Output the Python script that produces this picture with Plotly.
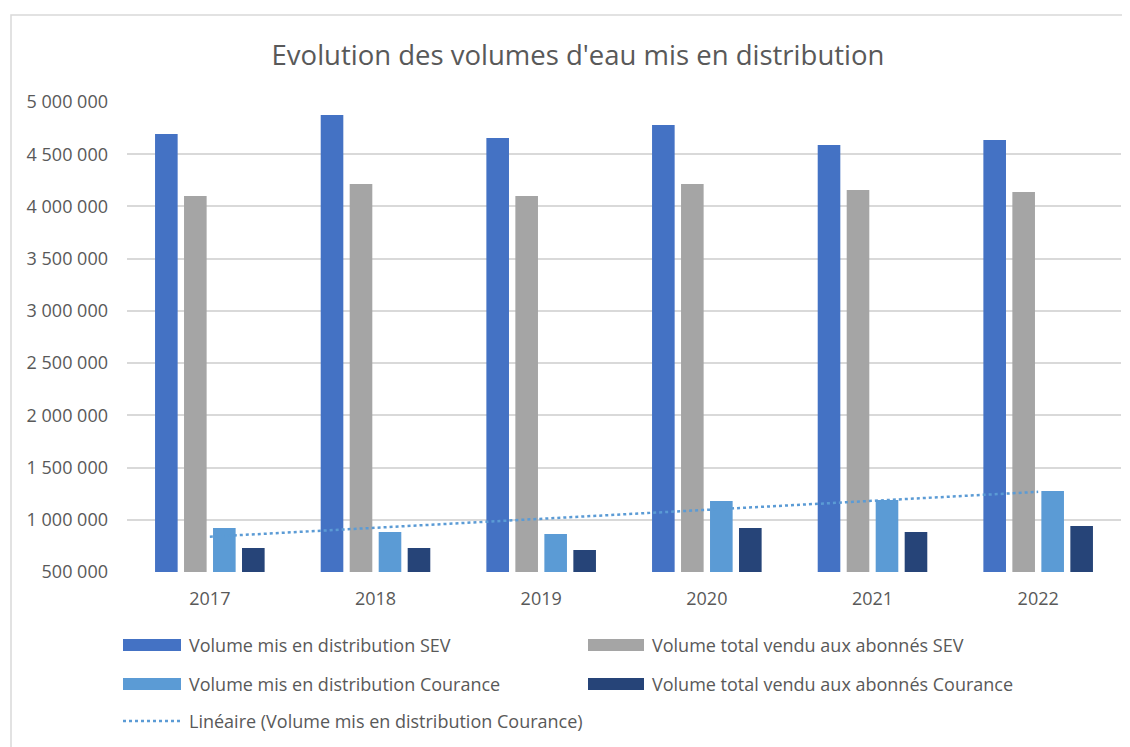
import numpy as np
import plotly.graph_objects as go

years = ["2017", "2018", "2019", "2020", "2021", "2022"]
sev_dist = [4694000, 4876000, 4655000, 4780000, 4588000, 4636000]
sev_sold = [4100000, 4215000, 4100000, 4215000, 4157000, 4138000]
cour_dist = [922000, 883000, 864000, 1180000, 1190000, 1276000]
cour_sold = [730000, 730000, 711000, 922000, 883000, 941000]

names = [
    "Volume mis en distribution SEV",
    "Volume total vendu aux abonnés SEV",
    "Volume mis en distribution Courance",
    "Volume total vendu aux abonnés Courance",
]
trend_name = "Linéaire (Volume mis en distribution Courance)"
colors = ["#4472C4", "#A5A5A5", "#5B9BD5", "#264478"]
series = [sev_dist, sev_sold, cour_dist, cour_sold]

TEXT = "#595959"
FONT = "Open Sans, sans-serif"

fig = go.Figure()
for nm, col, vals in zip(names, colors, series):
    fig.add_trace(go.Bar(x=years, y=vals, name=nm, marker_color=col,
                         marker_line_width=0, showlegend=False))

# linear trendline of Courance distribution (least squares over category index)
idx = np.arange(1, len(years) + 1)
slope, intercept = np.polyfit(idx, np.array(cour_dist, dtype=float), 1)
trend = (slope * idx + intercept).tolist()
fig.add_trace(go.Scatter(x=years, y=trend, mode="lines", name=trend_name,
                         line=dict(color="#5B9BD5", width=2.5, dash="dot"),
                         showlegend=False))

OFF = 8  # default page body margin
W, H = 1130 - OFF, 747 - OFF
L, R, T, B = 127 - OFF, 9, 102 - OFF, 175
pw, ph = W - L - R, H - T - B

def px(x):
    return (x - OFF - L) / pw

def py(y):
    return (H - B - (y - OFF)) / ph

shapes = []
annotations = []
# chart border
shapes.append(dict(type="rect", xref="paper", yref="paper",
                   x0=px(11), x1=px(1150), y0=py(15), y1=py(780),
                   line=dict(color="#D9D9D9", width=1.5), fillcolor="rgba(0,0,0,0)",
                   layer="below"))

# manual legend (Excel style)
leg_items = [
    (names[0], colors[0], 123, 181, 187, 645, "bar"),
    (names[1], colors[1], 588, 644, 650, 645, "bar"),
    (names[2], colors[2], 123, 181, 187, 684, "bar"),
    (names[3], colors[3], 588, 644, 650, 684, "bar"),
    (trend_name, "#5B9BD5", 123, 180, 187, 721, "line"),
]
for nm, col, sx0, sx1, tx, yy, kind in leg_items:
    if kind == "bar":
        shapes.append(dict(type="rect", xref="paper", yref="paper",
                           x0=px(sx0), x1=px(sx1), y0=py(yy + 6), y1=py(yy - 6),
                           fillcolor=col, line=dict(width=0)))
    else:
        shapes.append(dict(type="line", xref="paper", yref="paper",
                           x0=px(sx0), x1=px(sx1), y0=py(yy), y1=py(yy),
                           line=dict(color=col, width=2.5, dash="dot")))
    annotations.append(dict(text=nm, xref="paper", yref="paper",
                            x=px(tx), y=py(yy), xanchor="left", yanchor="middle",
                            showarrow=False, font=dict(family=FONT, size=18, color=TEXT)))

fig.update_layout(
    width=W, height=H,
    margin=dict(l=L, r=R, t=T, b=B),
    paper_bgcolor="white", plot_bgcolor="white",
    separators=". ",
    title=dict(text="Evolution des volumes d'eau mis en distribution",
               x=(578 - OFF) / W, xanchor="center", y=1 - (55 - OFF) / H, yanchor="middle",
               xref="container", yref="container",
               font=dict(family=FONT, size=27.5, color=TEXT)),
    barmode="group", bargap=0.30, bargroupgap=0.22,
    shapes=shapes, annotations=annotations,
    font=dict(family=FONT, color=TEXT),
)
fig.update_yaxes(range=[500000, 5000000], dtick=500000, tick0=0,
                 tickformat=",d", showgrid=True, gridcolor="#D9D9D9", gridwidth=1.5,
                 zeroline=False, showline=False, ticklabelstandoff=18,
                 tickfont=dict(family=FONT, size=18, color=TEXT))
fig.update_xaxes(showgrid=False, showline=False, ticks="",
                 ticklabelstandoff=14,
                 tickfont=dict(family=FONT, size=18, color=TEXT))

fig.write_html("out.html")
